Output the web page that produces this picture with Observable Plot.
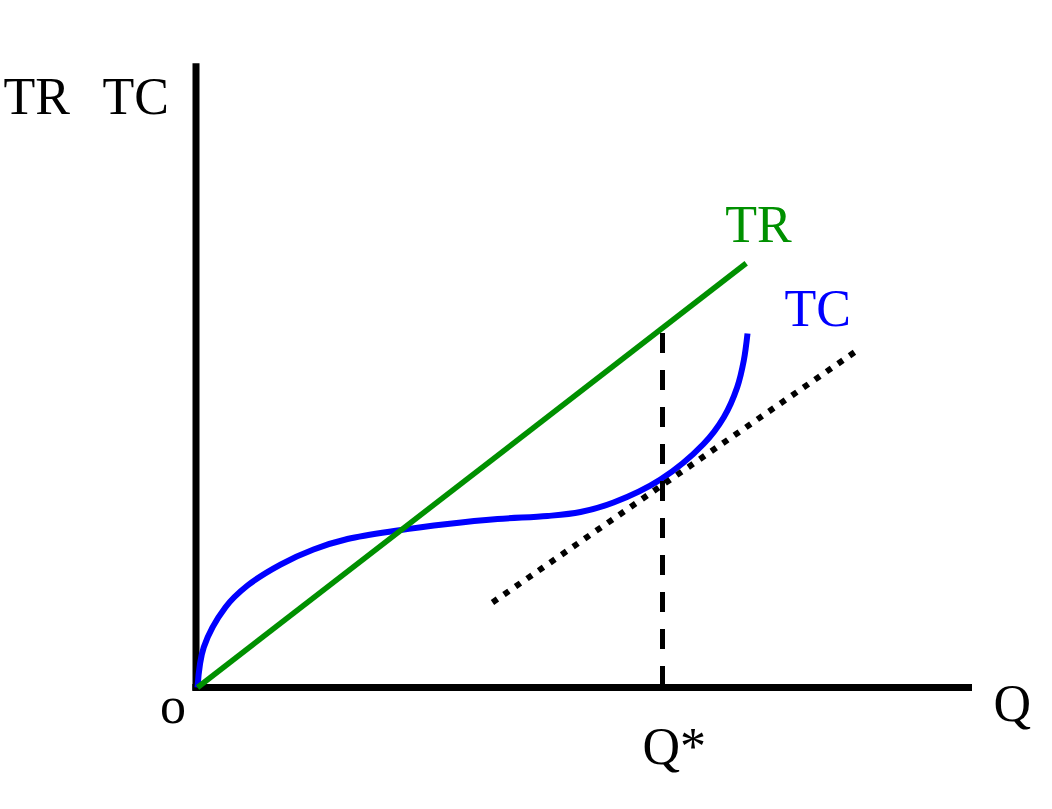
<!DOCTYPE html>
<html>
<head>
<meta charset="utf-8">
<script src="https://cdn.jsdelivr.net/npm/d3@7"></script>
<script src="https://cdn.jsdelivr.net/npm/@observablehq/plot@0.6"></script>
<style>
  html, body { margin: 0; padding: 0; background: #fff; }
</style>
</head>
<body>
<div id="chart"></div>
<script>
// Total revenue (straight line)
const qTR = [0, 70.8];
const trValues = [0, 68.2];

// Total cost (S-shaped curve)
const qTC = [0, 0.81, 3.61, 6.45, 10.71, 14.97, 19.35, 25.81, 32.26, 38.71, 45.16, 49.42, 53.68, 59.74, 65.29, 67.91, 69.64, 70.49, 70.97];
const tcValues = [0, 6.48, 12.91, 16.4, 19.77, 22.19, 23.87, 25.24, 26.29, 27.09, 27.57, 28.22, 29.74, 33.44, 39.15, 43.46, 48.28, 52.57, 56.91];

// Tangent to TC at Q* (dotted)
const qTangent = [38.06, 85.29];
const tangentValues = [13.67, 54.34];

// Profit-maximising output
const qStar = [60.0];
const trAtQStar = [56.9];

const trData = qTR.map((q, i) => ({q, v: trValues[i]}));
const tcData = qTC.map((q, i) => ({q, v: tcValues[i]}));
const tanData = qTangent.map((q, i) => ({q, v: tangentValues[i]}));

const green = "#009000";
const blue = "#0000ff";
const font = "'Liberation Serif', 'Times New Roman', serif";
const fs = 52;

const chart = Plot.plot({
  width: 1052,
  height: 809,
  marginLeft: 197,
  marginRight: 80,
  marginTop: 65,
  marginBottom: 122,
  x: {domain: [0, 100], axis: null},
  y: {domain: [0, 100], axis: null},
  style: {background: "#fff", fontFamily: font},
  marks: [
    // axes
    Plot.ruleX([0], {y1: -0.55, y2: 100.3, dx: -1.5, stroke: "black", strokeWidth: 7}),
    Plot.ruleY([0], {x1: -0.6, x2: 100, stroke: "black", strokeWidth: 7}),
    // TC curve
    Plot.line(tcData, {x: "q", y: "v", stroke: blue, strokeWidth: 6, curve: "catmull-rom", strokeLinecap: "butt"}),
    // TR line
    Plot.line(trData, {x: "q", y: "v", stroke: green, strokeWidth: 5.5, strokeLinecap: "butt"}),
    // tangent dotted
    Plot.line(tanData, {x: "q", y: "v", stroke: "black", strokeWidth: 6, strokeDasharray: "6 8", strokeLinecap: "butt"}),
    // vertical dashed at Q*
    Plot.ruleX(qStar, {x: d => d, y1: trAtQStar[0], y2: 0, stroke: "black", strokeWidth: 5, strokeDasharray: "20 17"}),
    // labels
    Plot.text(["TR"], {x: 0, y: 100, text: d => d, dx: -194, dy: 48, textAnchor: "start", lineAnchor: "bottom", fontSize: fs, fontFamily: font, fill: "black"}),
    Plot.text(["TC"], {x: 0, y: 100, text: d => d, dx: -95, dy: 48, textAnchor: "start", lineAnchor: "bottom", fontSize: fs, fontFamily: font, fill: "black"}),
    Plot.text([trData[trData.length - 1]], {x: "q", y: "v", text: () => "TR", dx: -21, dy: -21, textAnchor: "start", lineAnchor: "bottom", fontSize: fs, fontFamily: font, fill: green}),
    Plot.text([tcData[tcData.length - 1]], {x: "q", y: "v", text: () => "TC", dx: 37, dy: -8, textAnchor: "start", lineAnchor: "bottom", fontSize: fs, fontFamily: font, fill: blue}),
    Plot.text(["o"], {x: 0, y: 0, text: d => d, dx: -24.5, dy: 35, textAnchor: "middle", lineAnchor: "bottom", fontSize: fs, fontFamily: font, fill: "black"}),
    Plot.text(["Q"], {x: 100, y: 0, text: d => d, dx: 21, dy: 33, textAnchor: "start", lineAnchor: "bottom", fontSize: fs, fontFamily: font, fill: "black"}),
    Plot.text(qStar, {x: d => d, y: 0, text: () => "Q*", dx: -20, dy: 76, textAnchor: "start", lineAnchor: "bottom", fontSize: fs, fontFamily: font, fill: "black"})
  ]
});
document.getElementById("chart").appendChild(chart);
</script>
</body>
</html>
